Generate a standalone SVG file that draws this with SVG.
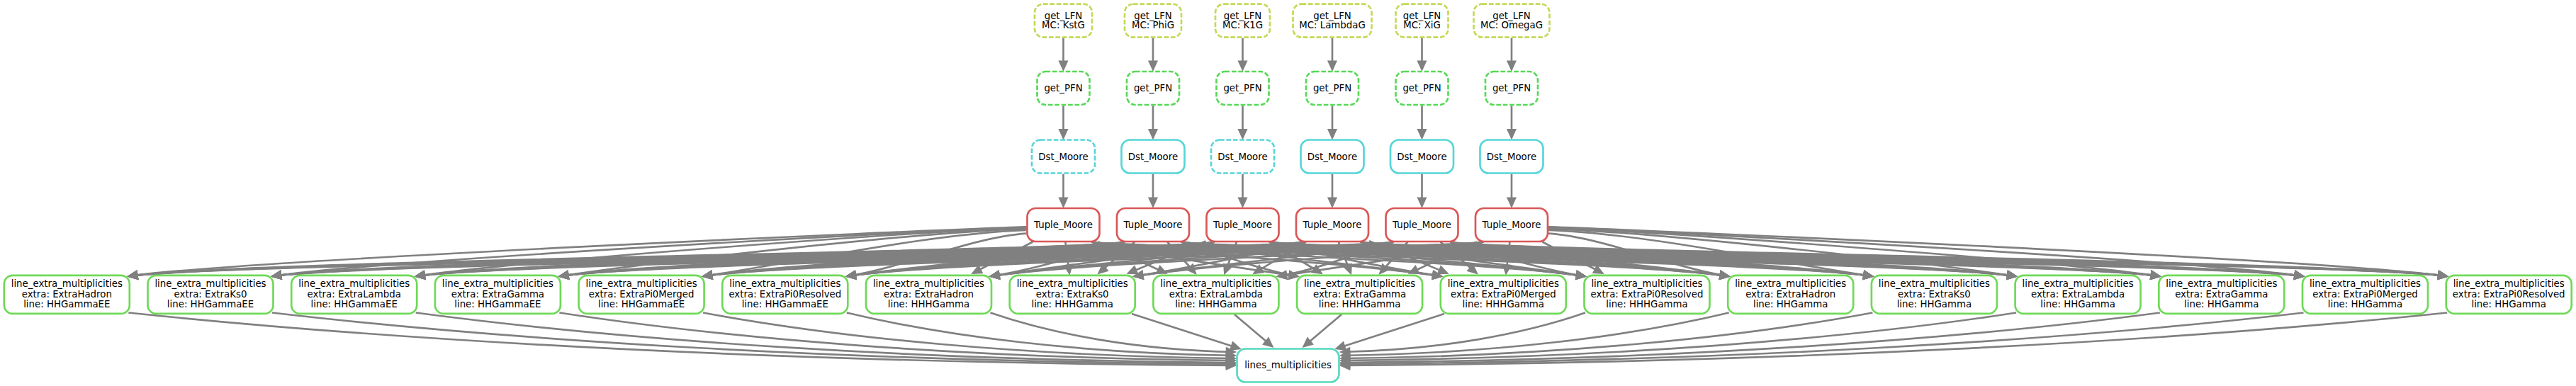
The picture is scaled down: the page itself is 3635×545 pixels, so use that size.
<svg xmlns="http://www.w3.org/2000/svg" width="3635" height="545" viewBox="0 0 3635 545">
<defs>
<marker id="ah" markerUnits="userSpaceOnUse" viewBox="-4 -8 20 16" markerWidth="20" markerHeight="16" refX="11" refY="0" orient="auto" overflow="visible">
<path d="M0,-5L11,0L0,5Z" fill="#808080" stroke="#808080" stroke-width="2.67"/>
</marker>
</defs>
<style>
.n rect{fill:none;stroke-width:2.67}
.n text{font-family:"DejaVu Sans",sans-serif;font-size:13.33px;text-anchor:middle;fill:#000}
.d rect{stroke-dasharray:6.7 2.7}
.lfn rect{stroke:#c4d957}
.pfn rect{stroke:#57d957}
.dst rect{stroke:#57d5d9}
.tup rect{stroke:#d95757}
.lem rect{stroke:#6ed957}
.lm rect{stroke:#57d9be}
#edges path{fill:none;stroke:#808080;stroke-width:2.67;marker-end:url(#ah)}
</style>
<rect width="3635" height="545" fill="#fff"/>
<g id="edges">
<path d="M1500.5,54L1500.5,97.8"/><path d="M1500.5,149.3L1500.5,194.3"/><path d="M1500.5,245.8L1500.5,290.8"/>
<path d="M1627,54L1627,97.8"/><path d="M1627,149.3L1627,194.3"/><path d="M1627,245.8L1627,290.8"/>
<path d="M1753.5,54L1753.5,97.8"/><path d="M1753.5,149.3L1753.5,194.3"/><path d="M1753.5,245.8L1753.5,290.8"/>
<path d="M1880,54L1880,97.8"/><path d="M1880,149.3L1880,194.3"/><path d="M1880,245.8L1880,290.8"/>
<path d="M2006.5,54L2006.5,97.8"/><path d="M2006.5,149.3L2006.5,194.3"/><path d="M2006.5,245.8L2006.5,290.8"/>
<path d="M2133,54L2133,97.8"/><path d="M2133,149.3L2133,194.3"/><path d="M2133,245.8L2133,290.8"/>
<path d="M1448.5,320.4C1298.5,325.4 332.3,367.5 182.3,390"/>
<path d="M1448.5,320.9C1298.5,325.9 535,367.5 385,390"/>
<path d="M1448.5,321.6C1298.5,326.6 737.7,367.5 587.7,390"/>
<path d="M1448.5,322.8C1298.5,327.8 940.4,367.5 790.4,390"/>
<path d="M1448.5,324.9C1311.9,329.9 1129.7,369.5 993.1,390"/>
<path d="M1448.5,329.7C1372.7,334.7 1271.6,378.6 1195.8,390"/>
<path d="M1457.3,341.5L1373.2,385.5"/>
<path d="M1503.4,341.5L1509,385.5"/>
<path d="M1549.4,341.5L1644.8,385.5"/>
<path d="M1540.5,341.5C1580.5,354 1743.6,377 1830.6,390"/>
<path d="M1540.5,341.5C1580.5,354 1885.5,367.8 2033.3,390"/>
<path d="M1540.5,341.5C1580.5,354 2086,367.5 2236,390"/>
<path d="M1540.5,341.5C1580.5,354 2288.7,367.5 2438.7,390"/>
<path d="M1540.5,341.5C1580.5,354 2491.4,367.5 2641.4,390"/>
<path d="M1540.5,341.5C1580.5,354 2694.1,367.5 2844.1,390"/>
<path d="M1540.5,341.5C1580.5,354 2896.8,367.5 3046.8,390"/>
<path d="M1540.5,341.5C1580.5,354 3099.5,367.5 3249.5,390"/>
<path d="M1540.5,341.5C1580.5,354 3302.2,367.5 3452.2,390"/>
<path d="M1587,341.5C1547,354 332.3,367.5 182.3,390"/>
<path d="M1587,341.5C1547,354 535,367.5 385,390"/>
<path d="M1587,341.5C1547,354 737.7,367.5 587.7,390"/>
<path d="M1587,341.5C1547,354 940.4,367.5 790.4,390"/>
<path d="M1587,341.5C1547,354 1143.1,367.5 993.1,390"/>
<path d="M1587,341.5C1547,354 1313.2,372.4 1195.8,390"/>
<path d="M1587,341.5C1547,354 1455.1,381.5 1398.5,390"/>
<path d="M1601.2,341.5L1550.8,385.5"/>
<path d="M1647.2,341.5L1686.6,385.5"/>
<path d="M1667,341.5C1707,354 1781.5,382.6 1830.6,390"/>
<path d="M1667,341.5C1707,354 1923.4,373.5 2033.3,390"/>
<path d="M1667,341.5C1707,354 2086,367.5 2236,390"/>
<path d="M1667,341.5C1707,354 2288.7,367.5 2438.7,390"/>
<path d="M1667,341.5C1707,354 2491.4,367.5 2641.4,390"/>
<path d="M1667,341.5C1707,354 2694.1,367.5 2844.1,390"/>
<path d="M1667,341.5C1707,354 2896.8,367.5 3046.8,390"/>
<path d="M1667,341.5C1707,354 3099.5,367.5 3249.5,390"/>
<path d="M1667,341.5C1707,354 3302.2,367.5 3452.2,390"/>
<path d="M1713.5,341.5C1673.5,354 332.3,367.5 182.3,390"/>
<path d="M1713.5,341.5C1673.5,354 535,367.5 385,390"/>
<path d="M1713.5,341.5C1673.5,354 737.7,367.5 587.7,390"/>
<path d="M1713.5,341.5C1673.5,354 940.4,367.5 790.4,390"/>
<path d="M1713.5,341.5C1673.5,354 1143.1,367.5 993.1,390"/>
<path d="M1713.5,341.5C1673.5,354 1345.8,367.5 1195.8,390"/>
<path d="M1713.5,341.5C1673.5,354 1493,375.8 1398.5,390"/>
<path d="M1701.5,340.4L1592.5,385.5"/>
<path d="M1745,341.5L1728.3,385.5"/>
<path d="M1791,341.5L1864.1,385.5"/>
<path d="M1793.5,341.5C1833.5,354 1961.4,379.2 2033.3,390"/>
<path d="M1793.5,341.5C1833.5,354 2103.2,370.1 2236,390"/>
<path d="M1793.5,341.5C1833.5,354 2288.7,367.5 2438.7,390"/>
<path d="M1793.5,341.5C1833.5,354 2491.4,367.5 2641.4,390"/>
<path d="M1793.5,341.5C1833.5,354 2694.1,367.5 2844.1,390"/>
<path d="M1793.5,341.5C1833.5,354 2896.8,367.5 3046.8,390"/>
<path d="M1793.5,341.5C1833.5,354 3099.5,367.5 3249.5,390"/>
<path d="M1793.5,341.5C1833.5,354 3302.2,367.5 3452.2,390"/>
<path d="M1840,341.5C1800,354 332.3,367.5 182.3,390"/>
<path d="M1840,341.5C1800,354 535,367.5 385,390"/>
<path d="M1840,341.5C1800,354 737.7,367.5 587.7,390"/>
<path d="M1840,341.5C1800,354 940.4,367.5 790.4,390"/>
<path d="M1840,341.5C1800,354 1143.1,367.5 993.1,390"/>
<path d="M1840,341.5C1800,354 1345.8,367.5 1195.8,390"/>
<path d="M1840,341.5C1800,354 1531,370.1 1398.5,390"/>
<path d="M1840,341.5C1800,354 1672.8,379.3 1601.2,390"/>
<path d="M1842.7,341.5L1770.1,385.5"/>
<path d="M1888.8,341.5L1905.9,385.5"/>
<path d="M1932,340.3L2041.7,385.5"/>
<path d="M1920,341.5C1960,354 2141.2,375.8 2236,390"/>
<path d="M1920,341.5C1960,354 2288.7,367.5 2438.7,390"/>
<path d="M1920,341.5C1960,354 2491.4,367.5 2641.4,390"/>
<path d="M1920,341.5C1960,354 2694.1,367.5 2844.1,390"/>
<path d="M1920,341.5C1960,354 2896.8,367.5 3046.8,390"/>
<path d="M1920,341.5C1960,354 3099.5,367.5 3249.5,390"/>
<path d="M1920,341.5C1960,354 3302.2,367.5 3452.2,390"/>
<path d="M1966.5,341.5C1926.5,354 332.3,367.5 182.3,390"/>
<path d="M1966.5,341.5C1926.5,354 535,367.5 385,390"/>
<path d="M1966.5,341.5C1926.5,354 737.7,367.5 587.7,390"/>
<path d="M1966.5,341.5C1926.5,354 940.4,367.5 790.4,390"/>
<path d="M1966.5,341.5C1926.5,354 1143.1,367.5 993.1,390"/>
<path d="M1966.5,341.5C1926.5,354 1345.8,367.5 1195.8,390"/>
<path d="M1966.5,341.5C1926.5,354 1548.5,367.5 1398.5,390"/>
<path d="M1966.5,341.5C1926.5,354 1710.8,373.6 1601.2,390"/>
<path d="M1966.5,341.5C1926.5,354 1852.7,382.7 1803.9,390"/>
<path d="M1986.5,341.5L1947.6,385.5"/>
<path d="M2032.6,341.5L2083.4,385.5"/>
<path d="M2046.5,341.5C2086.5,354 2179.1,381.5 2236,390"/>
<path d="M2046.5,341.5C2086.5,354 2321,372.3 2438.7,390"/>
<path d="M2046.5,341.5C2086.5,354 2491.4,367.5 2641.4,390"/>
<path d="M2046.5,341.5C2086.5,354 2694.1,367.5 2844.1,390"/>
<path d="M2046.5,341.5C2086.5,354 2896.8,367.5 3046.8,390"/>
<path d="M2046.5,341.5C2086.5,354 3099.5,367.5 3249.5,390"/>
<path d="M2046.5,341.5C2086.5,354 3302.2,367.5 3452.2,390"/>
<path d="M2093,341.5C2053,354 332.3,367.5 182.3,390"/>
<path d="M2093,341.5C2053,354 535,367.5 385,390"/>
<path d="M2093,341.5C2053,354 737.7,367.5 587.7,390"/>
<path d="M2093,341.5C2053,354 940.4,367.5 790.4,390"/>
<path d="M2093,341.5C2053,354 1143.1,367.5 993.1,390"/>
<path d="M2093,341.5C2053,354 1345.8,367.5 1195.8,390"/>
<path d="M2093,341.5C2053,354 1548.5,367.5 1398.5,390"/>
<path d="M2093,341.5C2053,354 1748.7,367.9 1601.2,390"/>
<path d="M2093,341.5C2053,354 1890.6,377 1803.9,390"/>
<path d="M2084.3,341.5L1989.4,385.5"/>
<path d="M2130.4,341.5L2125.2,385.5"/>
<path d="M2176.4,341.5L2261,385.5"/>
<path d="M2185,329.7C2261.1,334.7 2362.6,378.6 2438.7,390"/>
<path d="M2185,324.9C2321.9,329.9 2504.5,369.5 2641.4,390"/>
<path d="M2185,322.8C2335,327.8 2694.1,367.5 2844.1,390"/>
<path d="M2185,321.6C2335,326.6 2896.8,367.5 3046.8,390"/>
<path d="M2185,320.9C2335,325.9 3099.5,367.5 3249.5,390"/>
<path d="M2185,320.4C2335,325.4 3302.2,367.5 3452.2,390"/>
<path d="M181.3,441.5C573,482.3 1118.5,512.3 1742,516"/>
<path d="M384,441.5C725,481.2 1199.6,510.4 1742,514"/>
<path d="M586.7,441.5C877,480.1 1280.7,508.5 1742,512"/>
<path d="M789.4,441.5C1029.1,478.4 1361.8,505.6 1742,509"/>
<path d="M992.1,441.5C1181.1,476.8 1442.8,502.8 1742,506"/>
<path d="M1194.8,441.5C1333.1,474.6 1523.9,499 1742,502"/>
<path d="M1397.5,441.5C1485.1,471.8 1605,494.2 1742,497"/>
<path d="M1597,443L1748.7,492"/>
<path d="M1742,444L1795,489"/>
<path d="M1893,444L1840,489"/>
<path d="M2038,443L1886.3,492"/>
<path d="M2237,441.5C2149.9,471.8 2030,494.2 1893,497"/>
<path d="M2439.7,441.5C2301.9,474.6 2111.1,499 1893,502"/>
<path d="M2642.4,441.5C2453.9,476.8 2192.2,502.8 1893,506"/>
<path d="M2845.1,441.5C2605.9,478.4 2273.2,505.6 1893,509"/>
<path d="M3047.8,441.5C2758,480.1 2354.3,508.5 1893,512"/>
<path d="M3250.5,441.5C2910,481.2 2435.4,510.4 1893,514"/>
<path d="M3453.2,441.5C3062,482.3 2516.5,512.3 1893,516"/>
</g>
<g id="lfn_KstG" class="n lfn d"><rect x="1460" y="5.7" width="81" height="47" rx="12"/><text x="1500.5" y="26.5">get_LFN</text><text x="1500.5" y="40.2">MC: KstG</text></g>
<g id="lfn_PhiG" class="n lfn d"><rect x="1587" y="5.7" width="80" height="47" rx="12"/><text x="1627" y="26.5">get_LFN</text><text x="1627" y="40.2">MC: PhiG</text></g>
<g id="lfn_K1G" class="n lfn d"><rect x="1715" y="5.7" width="77" height="47" rx="12"/><text x="1753.5" y="26.5">get_LFN</text><text x="1753.5" y="40.2">MC: K1G</text></g>
<g id="lfn_LambdaG" class="n lfn d"><rect x="1824.5" y="5.7" width="111" height="47" rx="12"/><text x="1880" y="26.5">get_LFN</text><text x="1880" y="40.2">MC: LambdaG</text></g>
<g id="lfn_XiG" class="n lfn d"><rect x="1969.5" y="5.7" width="74" height="47" rx="12"/><text x="2006.5" y="26.5">get_LFN</text><text x="2006.5" y="40.2">MC: XiG</text></g>
<g id="lfn_OmegaG" class="n lfn d"><rect x="2079.5" y="5.7" width="107" height="47" rx="12"/><text x="2133" y="26.5">get_LFN</text><text x="2133" y="40.2">MC: OmegaG</text></g>
<g id="pfn_KstG" class="n pfn d"><rect x="1463.5" y="101" width="74" height="47" rx="12"/><text x="1500.5" y="129">get_PFN</text></g>
<g id="pfn_PhiG" class="n pfn d"><rect x="1590" y="101" width="74" height="47" rx="12"/><text x="1627" y="129">get_PFN</text></g>
<g id="pfn_K1G" class="n pfn d"><rect x="1716.5" y="101" width="74" height="47" rx="12"/><text x="1753.5" y="129">get_PFN</text></g>
<g id="pfn_LambdaG" class="n pfn d"><rect x="1843" y="101" width="74" height="47" rx="12"/><text x="1880" y="129">get_PFN</text></g>
<g id="pfn_XiG" class="n pfn d"><rect x="1969.5" y="101" width="74" height="47" rx="12"/><text x="2006.5" y="129">get_PFN</text></g>
<g id="pfn_OmegaG" class="n pfn d"><rect x="2096" y="101" width="74" height="47" rx="12"/><text x="2133" y="129">get_PFN</text></g>
<g id="dst_KstG" class="n dst d"><rect x="1456" y="197.5" width="89" height="47" rx="12"/><text x="1500.5" y="225.5">Dst_Moore</text></g>
<g id="dst_PhiG" class="n dst"><rect x="1582.5" y="197.5" width="89" height="47" rx="12"/><text x="1627" y="225.5">Dst_Moore</text></g>
<g id="dst_K1G" class="n dst d"><rect x="1709" y="197.5" width="89" height="47" rx="12"/><text x="1753.5" y="225.5">Dst_Moore</text></g>
<g id="dst_LambdaG" class="n dst"><rect x="1835.5" y="197.5" width="89" height="47" rx="12"/><text x="1880" y="225.5">Dst_Moore</text></g>
<g id="dst_XiG" class="n dst"><rect x="1962" y="197.5" width="89" height="47" rx="12"/><text x="2006.5" y="225.5">Dst_Moore</text></g>
<g id="dst_OmegaG" class="n dst"><rect x="2088.5" y="197.5" width="89" height="47" rx="12"/><text x="2133" y="225.5">Dst_Moore</text></g>
<g id="tup_KstG" class="n tup"><rect x="1449.5" y="294" width="102" height="47" rx="12"/><text x="1500.5" y="322">Tuple_Moore</text></g>
<g id="tup_PhiG" class="n tup"><rect x="1576" y="294" width="102" height="47" rx="12"/><text x="1627" y="322">Tuple_Moore</text></g>
<g id="tup_K1G" class="n tup"><rect x="1702.5" y="294" width="102" height="47" rx="12"/><text x="1753.5" y="322">Tuple_Moore</text></g>
<g id="tup_LambdaG" class="n tup"><rect x="1829" y="294" width="102" height="47" rx="12"/><text x="1880" y="322">Tuple_Moore</text></g>
<g id="tup_XiG" class="n tup"><rect x="1955.5" y="294" width="102" height="47" rx="12"/><text x="2006.5" y="322">Tuple_Moore</text></g>
<g id="tup_OmegaG" class="n tup"><rect x="2082" y="294" width="102" height="47" rx="12"/><text x="2133" y="322">Tuple_Moore</text></g>
<g id="lem_HHGammaEE_ExtraHadron" class="n lem"><rect x="5.8" y="388.9" width="177" height="54" rx="12"/><text x="94.3" y="405.2">line_extra_multiplicities</text><text x="94.3" y="419.8">extra: ExtraHadron</text><text x="94.3" y="434.4">line: HHGammaEE</text></g>
<g id="lem_HHGammaEE_ExtraKs0" class="n lem"><rect x="208.5" y="388.9" width="177" height="54" rx="12"/><text x="297" y="405.2">line_extra_multiplicities</text><text x="297" y="419.8">extra: ExtraKs0</text><text x="297" y="434.4">line: HHGammaEE</text></g>
<g id="lem_HHGammaEE_ExtraLambda" class="n lem"><rect x="411.2" y="388.9" width="177" height="54" rx="12"/><text x="499.7" y="405.2">line_extra_multiplicities</text><text x="499.7" y="419.8">extra: ExtraLambda</text><text x="499.7" y="434.4">line: HHGammaEE</text></g>
<g id="lem_HHGammaEE_ExtraGamma" class="n lem"><rect x="613.9" y="388.9" width="177" height="54" rx="12"/><text x="702.4" y="405.2">line_extra_multiplicities</text><text x="702.4" y="419.8">extra: ExtraGamma</text><text x="702.4" y="434.4">line: HHGammaEE</text></g>
<g id="lem_HHGammaEE_ExtraPi0Merged" class="n lem"><rect x="816.6" y="388.9" width="177" height="54" rx="12"/><text x="905.1" y="405.2">line_extra_multiplicities</text><text x="905.1" y="419.8">extra: ExtraPi0Merged</text><text x="905.1" y="434.4">line: HHGammaEE</text></g>
<g id="lem_HHGammaEE_ExtraPi0Resolved" class="n lem"><rect x="1019.3" y="388.9" width="177" height="54" rx="12"/><text x="1107.8" y="405.2">line_extra_multiplicities</text><text x="1107.8" y="419.8">extra: ExtraPi0Resolved</text><text x="1107.8" y="434.4">line: HHGammaEE</text></g>
<g id="lem_HHHGamma_ExtraHadron" class="n lem"><rect x="1222" y="388.9" width="177" height="54" rx="12"/><text x="1310.5" y="405.2">line_extra_multiplicities</text><text x="1310.5" y="419.8">extra: ExtraHadron</text><text x="1310.5" y="434.4">line: HHHGamma</text></g>
<g id="lem_HHHGamma_ExtraKs0" class="n lem"><rect x="1424.7" y="388.9" width="177" height="54" rx="12"/><text x="1513.2" y="405.2">line_extra_multiplicities</text><text x="1513.2" y="419.8">extra: ExtraKs0</text><text x="1513.2" y="434.4">line: HHHGamma</text></g>
<g id="lem_HHHGamma_ExtraLambda" class="n lem"><rect x="1627.4" y="388.9" width="177" height="54" rx="12"/><text x="1715.9" y="405.2">line_extra_multiplicities</text><text x="1715.9" y="419.8">extra: ExtraLambda</text><text x="1715.9" y="434.4">line: HHHGamma</text></g>
<g id="lem_HHHGamma_ExtraGamma" class="n lem"><rect x="1830.1" y="388.9" width="177" height="54" rx="12"/><text x="1918.6" y="405.2">line_extra_multiplicities</text><text x="1918.6" y="419.8">extra: ExtraGamma</text><text x="1918.6" y="434.4">line: HHHGamma</text></g>
<g id="lem_HHHGamma_ExtraPi0Merged" class="n lem"><rect x="2032.8" y="388.9" width="177" height="54" rx="12"/><text x="2121.3" y="405.2">line_extra_multiplicities</text><text x="2121.3" y="419.8">extra: ExtraPi0Merged</text><text x="2121.3" y="434.4">line: HHHGamma</text></g>
<g id="lem_HHHGamma_ExtraPi0Resolved" class="n lem"><rect x="2235.5" y="388.9" width="177" height="54" rx="12"/><text x="2324" y="405.2">line_extra_multiplicities</text><text x="2324" y="419.8">extra: ExtraPi0Resolved</text><text x="2324" y="434.4">line: HHHGamma</text></g>
<g id="lem_HHGamma_ExtraHadron" class="n lem"><rect x="2438.2" y="388.9" width="177" height="54" rx="12"/><text x="2526.7" y="405.2">line_extra_multiplicities</text><text x="2526.7" y="419.8">extra: ExtraHadron</text><text x="2526.7" y="434.4">line: HHGamma</text></g>
<g id="lem_HHGamma_ExtraKs0" class="n lem"><rect x="2640.9" y="388.9" width="177" height="54" rx="12"/><text x="2729.4" y="405.2">line_extra_multiplicities</text><text x="2729.4" y="419.8">extra: ExtraKs0</text><text x="2729.4" y="434.4">line: HHGamma</text></g>
<g id="lem_HHGamma_ExtraLambda" class="n lem"><rect x="2843.6" y="388.9" width="177" height="54" rx="12"/><text x="2932.1" y="405.2">line_extra_multiplicities</text><text x="2932.1" y="419.8">extra: ExtraLambda</text><text x="2932.1" y="434.4">line: HHGamma</text></g>
<g id="lem_HHGamma_ExtraGamma" class="n lem"><rect x="3046.3" y="388.9" width="177" height="54" rx="12"/><text x="3134.8" y="405.2">line_extra_multiplicities</text><text x="3134.8" y="419.8">extra: ExtraGamma</text><text x="3134.8" y="434.4">line: HHGamma</text></g>
<g id="lem_HHGamma_ExtraPi0Merged" class="n lem"><rect x="3249" y="388.9" width="177" height="54" rx="12"/><text x="3337.5" y="405.2">line_extra_multiplicities</text><text x="3337.5" y="419.8">extra: ExtraPi0Merged</text><text x="3337.5" y="434.4">line: HHGamma</text></g>
<g id="lem_HHGamma_ExtraPi0Resolved" class="n lem"><rect x="3451.7" y="388.9" width="177" height="54" rx="12"/><text x="3540.2" y="405.2">line_extra_multiplicities</text><text x="3540.2" y="419.8">extra: ExtraPi0Resolved</text><text x="3540.2" y="434.4">line: HHGamma</text></g>
<g id="lines_multiplicities" class="n lm"><rect x="1745.5" y="492.5" width="144" height="47" rx="12"/><text x="1817.5" y="520.3">lines_multiplicities</text></g>
</svg>
